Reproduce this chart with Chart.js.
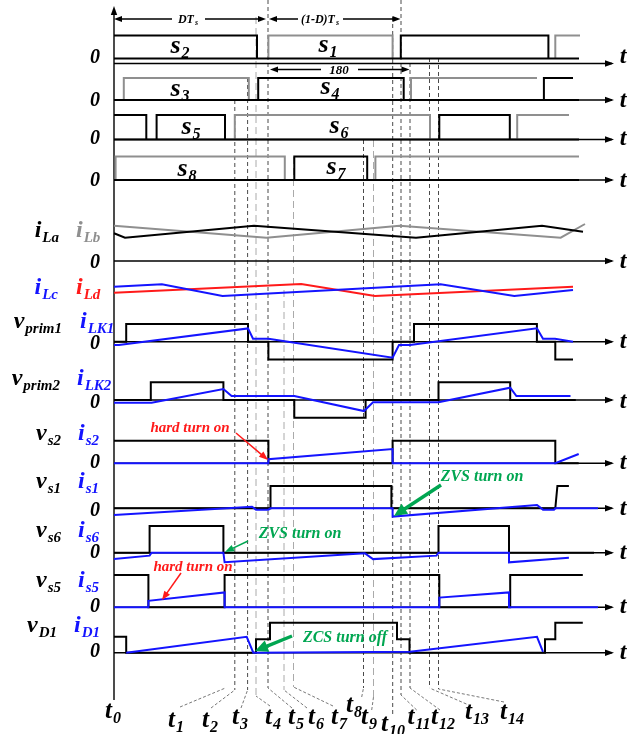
<!DOCTYPE html>
<html><head><meta charset="utf-8">
<script src="https://cdn.jsdelivr.net/npm/chart.js@4/dist/chart.umd.min.js"></script>
<style>html,body{margin:0;padding:0;background:#fff}canvas{display:block}</style>
</head><body>
<canvas id="c" width="641" height="734"></canvas>
<script>
// ---------------- DATA (time in units from t0, values in per-row units) ----------------
// gate pulses: high intervals [start, end]
const s2High = [[0,143],[286.8,434.4]];
const s1High = [[154.4,278.6],[441.3,466]];
const s3High = [[9.8,134.8],[297,423]];
const s4High = [[144.2,289.7],[429.9,459]];
const s5High = [[0,32.3],[42.6,111],[325.3,395.8]];
const s6High = [[120.8,316],[403.2,455]];
const s8High = [[1.6,170.8],[261.4,465]];
const s7High = [[180.3,253.2]];
// inductor currents
const iLa = [[0,2.77],[11,2.33],[140,3.53],[302,2.33],[428,3.53],[469,2.93]];
const iLb = [[0,3.53],[152.4,2.33],[285.6,3.53],[446.7,2.33],[471,3.7]];
const iLc = [[0,3.43],[47.9,3.67],[108.5,2.5],[326.6,3.67],[400.3,2.5],[459,3.1]];
const iLd = [[0,2.83],[187.2,3.7],[261,2.5],[459,3.43]];
// primary voltages / leakage currents
const vprim1 = [[0,0],[12.2,0],[12.2,1],[134,1],[134,0],[154.4,0],[154.4,-1],[278.6,-1],[278.6,0],[300,0],[300,1],[422.9,1],[422.9,0],[441.3,0],[441.3,-1],[459,-1]];
const iLK1 = [[0,-0.19],[4.9,-0.19],[134,0.75],[139,0.17],[154.4,0.17],[278.6,-0.9],[285,-0.19],[296,-0.19],[422.9,0.76],[429,0.17],[441,0.17],[459,0]];
const vprim2 = [[0,0],[36.8,0],[36.8,1],[109.4,1],[109.4,0],[180.3,0],[180.3,-1],[251.6,-1],[251.6,0],[324.5,0],[324.5,1],[396.2,1],[396.2,0],[461.8,0]];
const iLK2 = [[0,-0.15],[37.6,-0.15],[109.4,0.62],[117.6,0.22],[180.3,0.22],[250,-0.62],[259,-0.13],[324.5,-0.13],[396.2,0.69],[402.4,0.22],[456.5,0.22]];
// switch voltages / currents
const vs2 = [[0,1],[154.4,1],[154.4,0],[278.6,0],[278.6,1],[441.3,1],[441.3,0],[464.7,0]];
const is2 = [[0,0],[154.4,0],[154.4,0.18],[278.6,0.63],[278.6,0],[441.3,0],[464.7,0.41]];
const vs1 = [[0,0],[156.5,0],[156.5,1],[277.4,1],[277.4,0],[441.3,0],[443.4,1],[454.9,1]];
const is1 = [[0,-0.3],[138,0.07],[142,-0.06],[154.4,-0.06],[156.5,0],[278.6,0],[278.6,-0.37],[423,0.15],[429,-0.06],[440,-0.06],[441.3,0],[484,0]];
const vs6 = [[0,0],[35.6,0],[35.6,1],[109.4,1],[109.4,0],[324.5,0],[324.5,1],[395,1],[395,0],[480,0]];
const is6 = [[0,-0.24],[35.6,-0.11],[37.6,0],[109.4,0],[110.6,-0.36],[250.8,-0.02],[259,-0.24],[322.5,-0.11],[324.5,0],[395,0],[395,-0.36],[454.9,-0.19]];
const vs5 = [[0,1],[34.4,1],[34.4,0],[110.6,0],[110.6,1],[325.3,1],[325.3,0],[396.2,0],[396.2,1],[468.8,1]];
const is5 = [[0,0],[34.4,0],[34.4,0.2],[110.6,0.46],[110.6,0],[325.3,0],[325.3,0.3],[395,0.46],[395,0],[484,0]];
const vD1 = [[0,0.53],[12.2,0.53],[12.2,0],[142,0],[142,0.45],[156,0.45],[156,1],[283,1],[283,0.45],[295.5,0.45],[295.5,0],[431,0],[431,0.45],[441.3,0.45],[441.3,1],[468.8,1]];
const iD1 = [[12.2,0],[132.7,0.53],[139.3,0],[296,0.03],[423,0.53],[429,0.03]];
// time instants (dashed guides) and their labels
const guideTimes = [120.8,133.6,142,154,170,179.5,249.5,259.5,278.7,287,296,315.5,324.5];
const tickLabels = ['0','1','2','3','4','5','6','7','8','9','10','11','12','13','14'];

// ---------------- LAYOUT ----------------
const X0 = 114; // pixel of t0
const rows = {
  g1:{base:58.5,unit:23,axis:63.5}, g2:{base:100,unit:22,axis:100}, g3:{base:139.5,unit:24.5,axis:139.5}, g4:{base:180,unit:23.5,axis:180},
  iab:{base:261,unit:10,axis:261}, icd:{base:321,unit:10},
  p1:{base:341.7,unit:17.7,axis:341.7}, p2:{base:400,unit:17.8,axis:400},
  s2:{base:463.3,unit:22.6,axis:463.3}, s1:{base:508.3,unit:22.3,axis:508.3},
  s6:{base:552.7,unit:26.7,axis:552.7}, s5:{base:607.3,unit:32.3,axis:607.3}, d1:{base:652.7,unit:30,axis:652.7}
};
const axisEnd = 498;
const guideTop = [100,78,17,0,290,157,140,140,17,0,63,58,58];
const guideBottom = [690,690,696,688,690,687,688,697,716,695,688,688,689];
const guideLight = [false,false,true,false,true,true,false,true,false,false,false,false,false];
const tickLabelX = [113,176,210,240,273,296,316,339,354,369,393,419,443,477,512];
const tickLabelY = [718,727,727,724,724,724,724,724,712,724,731,724,724,719,719];
const leaderFrom = [null,[180,707],[211,708],[241,708],[270,706],[292,708],[307,708],[333,706],[361.7,697],[371.7,710],null,[416.7,710],[440,710],[471,706],[504,702]];
const leaderTo = [null,[225.4,688],0,1,2,3,4,5,6,7,null,9,10,11,12];

const BLACK='#000', GRAY='#8f8f8f', BLUE='#1414ff', RED='#ff1a1a', GREEN='#00a651';

function toXY(row, pts){ return pts.map(p => p===null ? {x:null,y:null} : {x:p[0], y:row.base - p[1]*row.unit}); }
function pulses(iv, openEnd){
  const out=[];
  iv.forEach(([a,b],k)=>{
    const last = k===iv.length-1;
    if(a>0) out.push([a,0]);
    out.push([a,1],[b,1]);
    if(!(openEnd && last)) out.push([b,0]);
    out.push(null);
  });
  return out;
}
const datasets=[];
function add(data, color, width, order, dash){
  datasets.push({data, borderColor:color, borderWidth:width, showLine:true, pointRadius:0, tension:0,
    spanGaps:false, fill:false, order, borderDash:dash||[], borderCapStyle:'butt', borderJoinStyle:'miter'});
}
// guides
guideTimes.forEach((t,k)=>{
  add([{x:t,y:guideTop[k]},{x:t,y:guideBottom[k]}], guideLight[k]?'#aaaaaa':'#4a4a4a', 1, 20, guideLight[k]?[7,4]:[4,3]);
});
leaderFrom.forEach((f,k)=>{
  if(!f) return;
  const to = leaderTo[k];
  const end = Array.isArray(to) ? {x:to[0]-X0,y:to[1]} : {x:guideTimes[to], y:guideBottom[to]};
  add([{x:f[0]-X0,y:f[1]}, end], '#555', 0.8, 20, [3,2]);
});
// axes
const axisRows = ['g1','g2','g3','g4','iab','p1','p2','s2','s1','s6','s5','d1'];
axisRows.forEach(r=>{ add([{x:0,y:rows[r].axis},{x:axisEnd,y:rows[r].axis}], BLACK, 1.4, 15); });
add([{x:0,y:12},{x:0,y:700}], BLACK, 1.4, 15);
// gate rows
const gateBase = 465;
[['g1',s1High,true,s2High,false],['g2',s3High,true,s4High,true],['g3',s6High,true,s5High,false],['g4',s8High,true,s7High,false]].forEach(([r,gray,go,blk,bo])=>{
  add(toXY(rows[r], pulses(gray,go)), GRAY, 2, 8);
  add(toXY(rows[r], pulses(blk,bo)), BLACK, 2, 7);
  add(toXY(rows[r], [[0,0],[gateBase,0]]), BLACK, 2, 7);
});
add(toXY(rows.iab,iLb), GRAY, 2, 8);
add(toXY(rows.iab,iLa), BLACK, 2, 7);
add(toXY(rows.icd,iLd), RED, 2, 6);
add(toXY(rows.icd,iLc), BLUE, 2, 5);
[['p1',vprim1,iLK1],['p2',vprim2,iLK2],['s2',vs2,is2],['s1',vs1,is1],['s6',vs6,is6],['s5',vs5,is5],['d1',vD1,iD1]].forEach(([r,v,i])=>{
  add(toXY(rows[r],v), BLACK, 2, 7);
  add(toXY(rows[r],i), BLUE, 2, 5);
});

// ---------------- TEXT / ANNOTATIONS ----------------
const FONT = s => `bold italic ${s}px "Liberation Serif","Times New Roman",serif`;
function drawSub(ctx,x,y,main,sub,color,ms,ss,align){
  ctx.font=FONT(ms); const w1=ctx.measureText(main).width;
  ctx.font=FONT(ss); const w2=ctx.measureText(sub).width;
  const tot=w1+1+w2;
  const x0 = align==='right'? x-tot : align==='center'? x-tot/2 : x;
  ctx.fillStyle=color; ctx.textAlign='left'; ctx.textBaseline='alphabetic';
  ctx.font=FONT(ms); ctx.fillText(main,x0,y);
  ctx.font=FONT(ss); ctx.fillText(sub,x0+w1+1,y+ss*0.3);
}
function arrowHead(ctx,x1,y1,x2,y2,len,half,color){
  const a=Math.atan2(y2-y1,x2-x1);
  ctx.fillStyle=color; ctx.beginPath();
  ctx.moveTo(x2,y2);
  ctx.lineTo(x2-len*Math.cos(a)+half*Math.sin(a), y2-len*Math.sin(a)-half*Math.cos(a));
  ctx.lineTo(x2-len*Math.cos(a)-half*Math.sin(a), y2-len*Math.sin(a)+half*Math.cos(a));
  ctx.closePath(); ctx.fill();
}
function arrow(ctx,x1,y1,x2,y2,color,w,len,half){
  const a=Math.atan2(y2-y1,x2-x1);
  ctx.strokeStyle=color; ctx.lineWidth=w; ctx.beginPath();
  ctx.moveTo(x1,y1); ctx.lineTo(x2-len*0.8*Math.cos(a), y2-len*0.8*Math.sin(a)); ctx.stroke();
  arrowHead(ctx,x1,y1,x2,y2,len,half,color);
}
const sideLabels = [
  ['i','La',BLACK,59,237,'right'],['i','Lb',GRAY,76,237,'left'],
  ['i','Lc',BLUE,58,294,'right'],['i','Ld',RED,76,294,'left'],
  ['v','prim1',BLACK,62,328,'right'],['i','LK1',BLUE,80,328,'left'],
  ['v','prim2',BLACK,60,385,'right'],['i','LK2',BLUE,77,385,'left'],
  ['v','s2',BLACK,61,440,'right'],['i','s2',BLUE,78,440,'left'],
  ['v','s1',BLACK,61,488,'right'],['i','s1',BLUE,78,488,'left'],
  ['v','s6',BLACK,61,537,'right'],['i','s6',BLUE,78,537,'left'],
  ['v','s5',BLACK,61,587,'right'],['i','s5',BLUE,78,587,'left'],
  ['v','D1',BLACK,57,632,'right'],['i','D1',BLUE,74,632,'left']
];
const gateLabels = [['2',180,53],['1',328,52],['3',180,96],['4',330,94],['5',191,134],['6',339,133],['8',187,176],['7',336,174]];
const zeroY = [57,100,138,180,262,343,402,462,510,552,606,651];
const tY = [57,101,139,181,262,342,402,463,509,553,607,653];

const deco = {
  id:'deco',
  beforeDraw(chart){ const c=chart.ctx; c.save(); c.fillStyle='#fff'; c.fillRect(0,0,chart.width,chart.height); c.restore(); },
  afterDatasetsDraw(chart){
    const ctx=chart.ctx, sx=chart.scales.x, sy=chart.scales.y;
    ctx.save();
    // axis arrowheads
    axisRows.forEach(r=>{ const y=sy.getPixelForValue(rows[r].axis), x=sx.getPixelForValue(axisEnd); arrowHead(ctx,x-10,y,x+2,y,9,3.2,BLACK); });
    const ax=sx.getPixelForValue(0); arrowHead(ctx,ax,30,ax,sy.getPixelForValue(6),9,3.2,BLACK);
    // 0 and t labels
    ctx.fillStyle=BLACK; ctx.textBaseline='middle';
    zeroY.forEach(y=>{ ctx.font=FONT(20); ctx.textAlign='right'; ctx.fillText('0',100,y+1); });
    tY.forEach(y=>{ ctx.font=FONT(24); ctx.textAlign='center'; ctx.fillText('t',623,y); });
    // side labels
    sideLabels.forEach(([m,s,c,x,y,al])=>drawSub(ctx,x,y,m,s,c,24,15,al));
    gateLabels.forEach(([s,x,y])=>drawSub(ctx,x,y,'s',s,BLACK,26,16,'center'));
    // bottom time labels
    tickLabels.forEach((s,k)=>drawSub(ctx,tickLabelX[k],tickLabelY[k],'t',s,BLACK,25,16,'center'));
    // duration arrows on top
    function dbl(x1,x2,y,gap1,gap2){
      ctx.strokeStyle=BLACK; ctx.lineWidth=1.6;
      ctx.beginPath(); ctx.moveTo(x1+5,y); ctx.lineTo(gap1,y); ctx.moveTo(gap2,y); ctx.lineTo(x2-5,y); ctx.stroke();
      arrowHead(ctx,x1+10,y,x1,y,8,3,BLACK); arrowHead(ctx,x2-10,y,x2,y,8,3,BLACK);
    }
    dbl(114,266,19,172,205); dbl(269,400.5,19,298,343); dbl(270,409.5,69.5,321,358);
    drawSub(ctx,188,23,'DT','s',BLACK,12,8,'center');
    drawSub(ctx,320,23,'(1-D)T','s',BLACK,12,8,'center');
    ctx.font=FONT(13); ctx.fillStyle=BLACK; ctx.textAlign='center'; ctx.textBaseline='alphabetic'; ctx.fillText('180',339,74);
    // annotations
    ctx.textAlign='center'; ctx.textBaseline='middle';
    ctx.font=FONT(15); ctx.fillStyle=RED; ctx.fillText('hard turn on',190,428);
    arrow(ctx,236,433,268,460,RED,1.5,9,3.5);
    ctx.fillText('hard turn on',193,567);
    arrow(ctx,181,573,162,600,RED,1.5,9,3.5);
    ctx.font=FONT(16); ctx.fillStyle=GREEN; ctx.fillText('ZVS turn on',482,477);
    arrow(ctx,441,485,394,516,GREEN,3.5,13,6);
    ctx.fillStyle=GREEN; ctx.font=FONT(16); ctx.fillText('ZVS turn on',300,534);
    arrow(ctx,248,541,225,552,GREEN,1.5,9,3.5);
    ctx.fillStyle=GREEN; ctx.font=FONT(16); ctx.fillText('ZCS turn off',345,638);
    arrow(ctx,292,636,255,651,GREEN,3.5,13,6);
    ctx.restore();
  }
};

new Chart(document.getElementById('c'), {
  type:'scatter',
  data:{datasets},
  options:{
    responsive:false, animation:false, devicePixelRatio:1,
    layout:{padding:0},
    plugins:{legend:{display:false}, tooltip:{enabled:false}},
    events:[],
    scales:{
      x:{type:'linear', min:-X0, max:641-X0, display:false},
      y:{type:'linear', min:0, max:734, reverse:true, display:false}
    }
  },
  plugins:[deco]
});
</script>
</body></html>
